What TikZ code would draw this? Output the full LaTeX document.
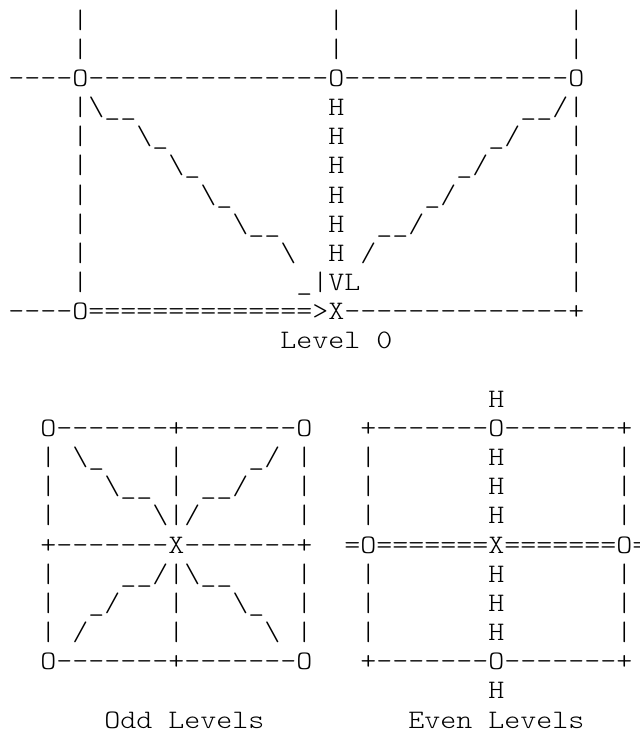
\documentclass[tikz,border=0pt]{standalone}
\usepackage{fontspec}
\newfontfamily\ascfont{lmmonolt10-regular.otf}[FakeStretch=1.142857]
\tikzset{
    ch/.style = {font=\ascfont\fontsize{20}{22}\selectfont, inner sep=0pt,
                 anchor=base west},
}
\begin{document}
\begin{tikzpicture}[x=12pt, y=-21.87pt]
        \useasboundingbox (-0.5,-0.967) rectangle (39.5,24.205);
        \foreach \r in {0,1} \node[ch] (mb\r) at (20,\r) {|};
        \foreach \r in {0,1,3,4,5,6,7,8,9} {
            \node[ch] (lb\r) at (4,\r) {|};
            \node[ch] (rb\r) at (35,\r) {|};
        }
        \foreach \r in {3,...,8} \node[ch] (h\r) at (20,\r) {H};
        \node[ch] (top) at (0,2) {----O---------------O--------------O};
        \node[ch] (base) at (0,10) {----O==============>X--------------+};
        \node[ch] (dl3) at (5,3) {\textbackslash\_\_};
        \node[ch] (dl4) at (8,4) {\textbackslash\_};
        \node[ch] (dl5) at (10,5) {\textbackslash\_};
        \node[ch] (dl6) at (12,6) {\textbackslash\_};
        \node[ch] (dl7) at (14,7) {\textbackslash\_\_};
        \node[ch] (dl8) at (17,8) {\textbackslash};
        \node[ch] (dr3) at (32,3) {\_\_/};
        \node[ch] (dr4) at (30,4) {\_/};
        \node[ch] (dr5) at (28,5) {\_/};
        \node[ch] (dr6) at (26,6) {\_/};
        \node[ch] (dr7) at (23,7) {\_\_/};
        \node[ch] (dr8) at (22,8) {/};
        \node[ch] (vl) at (18,9) {\_|VL};
        \node[ch] (lvl0) at (17,11) {Level 0};
        \foreach \r in {15,16,17,19,20,21} {
            \node[ch] (ol\r) at (2,\r) {|};
            \node[ch] (oc\r) at (10,\r) {|};
            \node[ch] (or\r) at (18,\r) {|};
            \node[ch] (el\r) at (22,\r) {|};
            \node[ch] (eh\r) at (30,\r) {H};
            \node[ch] (er\r) at (38,\r) {|};
        }
        \node[ch] (otop) at (2,14) {O-------+-------O};
        \node[ch] (omid) at (2,18) {+-------X-------+};
        \node[ch] (obot) at (2,22) {O-------+-------O};
        \node[ch] (o15a) at (4,15) {\textbackslash\_};
        \node[ch] (o15b) at (15,15) {\_/};
        \node[ch] (o16a) at (6,16) {\textbackslash\_\_};
        \node[ch] (o16b) at (12,16) {\_\_/};
        \node[ch] (o17a) at (9,17) {\textbackslash};
        \node[ch] (o17b) at (11,17) {/};
        \node[ch] (o19a) at (7,19) {\_\_/};
        \node[ch] (o19b) at (11,19) {\textbackslash\_\_};
        \node[ch] (o20a) at (5,20) {\_/};
        \node[ch] (o20b) at (14,20) {\textbackslash\_};
        \node[ch] (o21a) at (4,21) {/};
        \node[ch] (o21b) at (16,21) {\textbackslash};
        \node[ch] (eh13) at (30,13) {H};
        \node[ch] (etop) at (22,14) {+-------O-------+};
        \node[ch] (emid) at (21,18) {=O=======X=======O=};
        \node[ch] (ebot) at (22,22) {+-------O-------+};
        \node[ch] (eh23) at (30,23) {H};
        \node[ch] (oddlbl) at (6,24) {Odd Levels};
        \node[ch] (evenlbl) at (25,24) {Even Levels};
      \end{tikzpicture}
\end{document}
